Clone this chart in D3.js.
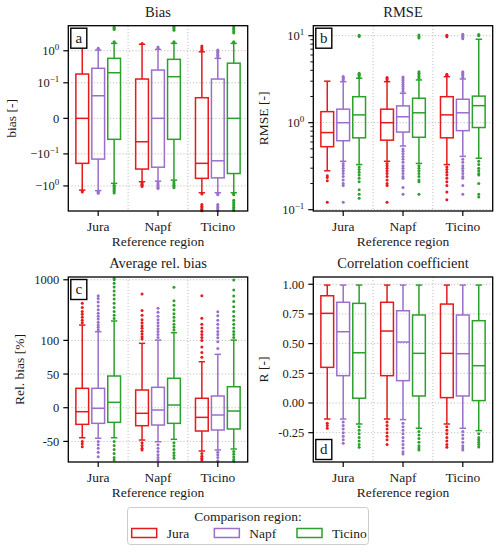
<!DOCTYPE html>
<html><head><meta charset="utf-8">
<script src="https://cdn.jsdelivr.net/npm/d3@7"></script>
<style>
body{margin:0;background:#fff}
svg text{font-family:'Liberation Serif','DejaVu Serif',serif;fill:#1a1a1a}
</style>
</head><body>
<svg id="chart" width="500" height="552" font-family="Liberation Serif, DejaVu Serif, serif"></svg>
<script>
// ---------------- DATA ----------------
const regions = ["Jura", "Napf", "Ticino"];
const comparisonRegions = ["Jura", "Napf", "Ticino"];
const hueColors = ["#e41a1c", "#9a6fcb", "#2ca02c"];

// box stats per reference region, per comparison region: [whiskerLow, q1, median, q3, whiskerHigh]
const biasBoxes = [
  [[-1.35, -0.197, 0, 0.1875, 1.35], [-1.4, -0.145, 0.0635, 0.283, 1.05], [-0.83, -0.059, 0.206, 0.58, 1.7]],
  [[-0.74, -0.297, -0.0658, 0.131, 1.6], [-0.71, -0.26, 0, 0.25, 1.1], [-0.66, -0.059, 0.155, 0.54, 1.7]],
  [[-1.63, -0.58, -0.197, 0.058, 0.93], [-1.63, -0.56, -0.164, 0.131, 0.58], [-1.63, -0.41, 0, 0.41, 1.7]]
];
const biasFliers = [
  [[1.5, -1.45, -1.55], [1.15, 1.2, -1.5, -1.6, -1.7], [4.6, 5.0, 5.4, 1.8, 1.9, -0.95, -1.05, -1.15, -1.25, -1.35, -1.5, -1.65]],
  [[1.7, -0.8, -0.88, -0.95, -1.05], [1.2, 1.3, -0.8, -0.9, -1.0, -1.1, -1.2], [4.4, 4.8, 5.2, 5.6, 1.8, 1.9, -0.75, -0.85, -0.95, -1.05, -1.15]],
  [[1.0, 1.1, 1.25, 1.4, -1.8, -3.8, -4.3, -4.8, -5.4, -6.0], [0.65, 0.72, 0.8, 0.9, 1.0, 1.05, -1.75, -1.9, -3.8, -4.2, -4.7, -5.2, -5.8], [3.6, 4.0, 4.5, 5.0, 5.5, 1.8, 1.9, -1.75, -1.9, -2.8, -3.2, -3.6, -4.1, -4.6, -5.2, -5.8]]
];
const biasTicks = [-1, -0.1, 0, 0.1, 1];
const biasTickLabels = ["−10^0", "−10^−1", "0", "10^−1", "10^0"];

const rmseBoxes = [
  [[0.28, 0.53, 0.77, 1.34, 3.0], [0.36, 0.62, 1.0, 1.43, 2.96], [0.33, 0.67, 1.23, 1.99, 3.24]],
  [[0.36, 0.63, 1.0, 1.43, 2.96], [0.54, 0.78, 1.17, 1.56, 2.18], [0.34, 0.68, 1.3, 1.91, 3.1]],
  [[0.33, 0.67, 1.23, 1.99, 3.38], [0.41, 0.81, 1.3, 1.86, 3.18], [0.39, 0.88, 1.57, 2.02, 9.1]]
];
const rmseFliers = [
  [[0.245, 0.235, 0.215, 0.122], [3.1, 3.2, 3.3, 3.4, 0.34, 0.32, 0.3, 0.28, 0.26, 0.24, 0.22, 0.2, 0.19, 0.122], [3.35, 3.5, 3.6, 3.7, 9.8, 10.1, 0.31, 0.29, 0.27, 0.25, 0.23, 0.21, 0.17, 0.15, 0.135]],
  [[3.1, 3.2, 3.3, 0.34, 0.32, 0.3, 0.28, 0.26, 0.24, 0.22, 0.2, 0.19, 0.122], [2.3, 2.45, 2.6, 2.75, 2.9, 3.05, 3.2, 3.35, 0.5, 0.47, 0.44, 0.41, 0.38, 0.35, 0.32, 0.3, 0.28, 0.26, 0.24, 0.23, 0.18, 0.15], [3.25, 3.4, 3.55, 3.7, 3.86, 9.4, 9.8, 10.2, 0.32, 0.3, 0.28, 0.26, 0.24, 0.22, 0.21, 0.15]],
  [[3.5, 3.6, 9.7, 10.1, 0.31, 0.29, 0.27, 0.25, 0.23, 0.21, 0.19, 0.16, 0.13], [3.3, 3.45, 3.6, 3.75, 3.86, 9.2, 9.6, 10.0, 10.4, 0.38, 0.35, 0.32, 0.3, 0.28, 0.26, 0.24, 0.23, 0.19, 0.15], [10.0, 10.3, 0.36, 0.33, 0.3, 0.28, 0.26, 0.25, 0.2, 0.15, 0.14]]
];
const rmseTicks = [0.1, 1, 10];
const rmseTickLabels = ["10^−1", "10^0", "10^1"];

const relBiasBoxes = [
  [[-44.6, -24.7, -5.9, 28.8, 179], [-45.4, -23.2, -0.9, 28.8, 139], [-44.6, -21.7, 8.0, 47.1, 209]],
  [[-48, -26.7, -8.3, 26.3, 95.6], [-50.5, -25.7, -3.4, 30.3, 101], [-46.9, -23.2, 4.0, 43.7, 134]],
  [[-64.3, -34.6, -14.3, 14, 68.3], [-62.8, -33.1, -10.8, 17.4, 79.3], [-61.3, -31.6, -4.9, 31.2, 101]]
];
const relBiasFliers = [
  [[195, 215, 240, 270, 300, 350, 410, -50, -54, -57.9], [150, 165, 180, 200, 225, 250, 280, 320, 370, 430, 490, 546, -50, -55, -60, -66, -72.8], [230, 260, 300, 350, 410, 480, 560, 650, 760, 880, 1000, 1050, -50, -56, -62, -68, -74, -77.7]],
  [[105, 115, 128, 142, 158, 175, 195, 220, 260, 310, 582, -52, -56, -60, -62.8], [112, 125, 140, 155, 175, 195, 220, 250, 290, 338, -55, -60, -65, -70, -74, -77.7], [148, 165, 185, 210, 240, 275, 320, 380, 450, 751, -52, -57, -62, -67, -71, -75]],
  [[75, 82, 90, 100, 112, 125, 140, 160, 185, 231, 546, -68, -72, -75, -77.7], [88, 98, 110, 125, 140, 160, 185, 215, 255, 297, -66, -70, -74, -78.7], [112, 125, 140, 160, 185, 215, 250, 300, 360, 440, 540, 680, 991, -65, -69, -73, -77, -79]]
];
const relBiasTicks = [-50, 0, 50, 100, 1000];
const relBiasTickLabels = ["-50", "0", "50", "100", "1000"];

const corrBoxes = [
  [[-0.135, 0.30, 0.755, 0.903, 0.993], [-0.135, 0.23, 0.60, 0.848, 0.993], [-0.177, 0.04, 0.423, 0.839, 0.993]],
  [[-0.135, 0.23, 0.606, 0.848, 0.993], [-0.14, 0.188, 0.513, 0.777, 0.993], [-0.213, 0.059, 0.418, 0.741, 0.993]],
  [[-0.177, 0.045, 0.418, 0.833, 0.993], [-0.213, 0.059, 0.415, 0.741, 0.993], [-0.233, 0.02, 0.314, 0.693, 0.993]]
];
const corrFliers = [
  [[-0.17, -0.19, -0.213], [-0.16, -0.19, -0.22, -0.25, -0.28, -0.31, -0.34], [-0.2, -0.23, -0.26, -0.29, -0.32, -0.35, -0.373]],
  [[-0.16, -0.19, -0.22, -0.25, -0.28, -0.31, -0.35], [-0.17, -0.2, -0.23, -0.26, -0.29, -0.32, -0.35, -0.38, -0.41, -0.43], [-0.24, -0.27, -0.3, -0.33, -0.36, -0.38, -0.396]],
  [[-0.2, -0.23, -0.26, -0.29, -0.32, -0.35, -0.373], [-0.24, -0.27, -0.3, -0.33, -0.36, -0.38, -0.396], [-0.26, -0.29, -0.31, -0.33, -0.35, -0.37]]
];
const corrTicks = [-0.25, 0, 0.25, 0.5, 0.75, 1.0];
const corrTickLabels = ["-0.25", "0.00", "0.25", "0.50", "0.75", "1.00"];

const titles = ["Bias", "RMSE", "Average rel. bias", "Correlation coefficient"];
const yLabels = ["bias [-]", "RMSE [-]", "Rel. bias [%]", "R [-]"];
const panelLetters = ["a", "b", "c", "d"];
const xAxisLabel = "Reference region";
const legendTitle = "Comparison region:";

// ---------------- DRAWING ----------------
const svg = d3.select("#chart");

function symlogT(L) {
  const k = 1 / (1 - 1 / 10);
  return v => {
    const a = Math.abs(v), s = Math.sign(v);
    return a <= L ? s * a / L * k : s * (k + Math.log10(a / L));
  };
}
function symlogScale(L, domain, range) {
  const t = symlogT(L);
  const lin = d3.scaleLinear().domain(domain.map(t)).range(range);
  return v => lin(t(v));
}

const panels = [
  {x0: 68.3, x1: 247.7, y0: 25.7, y1: 211, boxes: biasBoxes, fliers: biasFliers, ticks: biasTicks, labels: biasTickLabels,
   type: "symlog", L: 0.1, domain: [-6.07, 6.07], ylabX: 12, letter: "top"},
  {x0: 313.3, x1: 492.7, y0: 25.7, y1: 211, boxes: rmseBoxes, fliers: rmseFliers, ticks: rmseTicks, labels: rmseTickLabels,
   type: "log", domain: [0.0966, 13.03], ylabX: 264, letter: "top"},
  {x0: 68.3, x1: 247.7, y0: 277, y1: 462, boxes: relBiasBoxes, fliers: relBiasFliers, ticks: relBiasTicks, labels: relBiasTickLabels,
   type: "symlog", L: 100, domain: [-80.6, 1111], ylabX: 20, letter: "top"},
  {x0: 313.3, x1: 492.7, y0: 277, y1: 462, boxes: corrBoxes, fliers: corrFliers, ticks: corrTicks, labels: corrTickLabels,
   type: "linear", domain: [-0.497, 1.061], ylabX: 264, letter: "bottom"}
];

function addLabel(sel, str, supSize) {
  const parts = str.split("^");
  sel.text(parts[0]);
  if (parts.length > 1) {
    sel.append("tspan").attr("dy", -5).attr("font-size", supSize).text(parts[1]);
  }
}

panels.forEach((p, pi) => {
  const g = svg.append("g");
  const x = d3.scaleLinear().domain([-0.5, 2.5]).range([p.x0, p.x1]);
  let y;
  if (p.type === "symlog") y = symlogScale(p.L, p.domain, [p.y1, p.y0]);
  else if (p.type === "log") y = d3.scaleLog().domain(p.domain).range([p.y1, p.y0]);
  else y = d3.scaleLinear().domain(p.domain).range([p.y1, p.y0]);

  // grid
  p.ticks.forEach(t => {
    g.append("line").attr("x1", p.x0).attr("x2", p.x1).attr("y1", y(t)).attr("y2", y(t))
      .attr("stroke", "#b3b3b3").attr("stroke-width", 1).attr("stroke-dasharray", "1,2.2");
  });
  [0.5, 1.5].forEach(t => {
    g.append("line").attr("x1", x(t)).attr("x2", x(t)).attr("y1", p.y0).attr("y2", p.y1)
      .attr("stroke", "#b3b3b3").attr("stroke-width", 1).attr("stroke-dasharray", "1,2.2");
  });

  // boxes
  const hueOff = 0.8 / 3;
  const halfW = hueOff * 0.8 / 2;
  p.boxes.forEach((reg, ri) => {
    reg.forEach((s, hi) => {
      const c = hueColors[hi];
      const cx = x(ri + (hi - 1) * hueOff);
      const hw = x(halfW) - x(0);
      const [wl, q1, md, q3, wh] = s;
      const bg = g.append("g").attr("stroke", c).attr("stroke-width", 1.5).attr("fill", "none");
      bg.append("line").attr("x1", cx).attr("x2", cx).attr("y1", y(q3)).attr("y2", y(wh));
      bg.append("line").attr("x1", cx).attr("x2", cx).attr("y1", y(q1)).attr("y2", y(wl));
      bg.append("line").attr("x1", cx - hw / 2).attr("x2", cx + hw / 2).attr("y1", y(wh)).attr("y2", y(wh));
      bg.append("line").attr("x1", cx - hw / 2).attr("x2", cx + hw / 2).attr("y1", y(wl)).attr("y2", y(wl));
      bg.append("rect").attr("x", cx - hw).attr("width", 2 * hw).attr("y", y(q3)).attr("height", y(q1) - y(q3));
      bg.append("line").attr("x1", cx - hw).attr("x2", cx + hw).attr("y1", y(md)).attr("y2", y(md));
      g.selectAll(null).data(p.fliers[ri][hi]).enter().append("circle")
        .attr("cx", cx).attr("cy", d => y(d)).attr("r", 1.5).attr("fill", c);
    });
  });

  // frame
  g.append("rect").attr("x", p.x0).attr("y", p.y0).attr("width", p.x1 - p.x0).attr("height", p.y1 - p.y0)
    .attr("fill", "none").attr("stroke", "#000").attr("stroke-width", 1.3);

  // y ticks
  p.ticks.forEach((t, i) => {
    g.append("line").attr("x1", p.x0 - 5).attr("x2", p.x0).attr("y1", y(t)).attr("y2", y(t))
      .attr("stroke", "#000").attr("stroke-width", 1.2);
    const tx = g.append("text").attr("x", p.x0 - 9).attr("y", y(t) + 4.5).attr("text-anchor", "end")
      .attr("font-size", 12.5);
    addLabel(tx, p.labels[i], 9);
  });
  if (p.type === "log") {
    const minors = [];
    [0.1, 1].forEach(dec => { for (let m = 2; m <= 9; m++) minors.push(dec * m); });
    minors.forEach(t => {
      g.append("line").attr("x1", p.x0 - 3).attr("x2", p.x0).attr("y1", y(t)).attr("y2", y(t))
        .attr("stroke", "#000").attr("stroke-width", 0.9);
    });
  }
  // x ticks
  regions.forEach((r, i) => {
    g.append("line").attr("x1", x(i)).attr("x2", x(i)).attr("y1", p.y1).attr("y2", p.y1 + 5)
      .attr("stroke", "#000").attr("stroke-width", 1.2);
    g.append("text").attr("x", x(i)).attr("y", p.y1 + 20).attr("text-anchor", "middle")
      .attr("font-size", 13.5).text(r);
  });
  g.append("text").attr("x", (p.x0 + p.x1) / 2).attr("y", p.y1 + 35).attr("text-anchor", "middle")
    .attr("font-size", 13.5).text(xAxisLabel);
  g.append("text").attr("x", (p.x0 + p.x1) / 2).attr("y", p.y0 - 9).attr("text-anchor", "middle")
    .attr("font-size", 14.5).text(titles[pi]);
  g.append("text").attr("transform", `translate(${p.ylabX + 4},${(p.y0 + p.y1) / 2}) rotate(-90)`)
    .attr("text-anchor", "middle").attr("font-size", 13.5).text(yLabels[pi]);

  // panel letter
  const lw = 16, lh = 20;
  const lx = p.x0 + 2.5;
  const ly = p.letter === "top" ? p.y0 + 2.5 : p.y1 - 2.5 - lh;
  g.append("rect").attr("x", lx).attr("y", ly).attr("width", lw).attr("height", lh)
    .attr("fill", "#fff").attr("stroke", "#000").attr("stroke-width", 1.4);
  g.append("text").attr("x", lx + lw / 2).attr("y", ly + 14.5).attr("text-anchor", "middle")
    .attr("font-size", 15).text(panelLetters[pi]);
});

// legend
const lg = svg.append("g");
lg.append("rect").attr("x", 127.5).attr("y", 507.5).attr("width", 241).attr("height", 37).attr("rx", 3)
  .attr("fill", "#fff").attr("stroke", "#cccccc").attr("stroke-width", 1);
lg.append("text").attr("x", 248).attr("y", 520.5).attr("text-anchor", "middle").attr("font-size", 13.5).text(legendTitle);
const legX = d3.scalePoint().domain(comparisonRegions).range([131.7, 297]);
comparisonRegions.forEach((r, i) => {
  lg.append("rect").attr("x", legX(r)).attr("y", 528.5).attr("width", 25).attr("height", 9)
    .attr("fill", "#fff").attr("stroke", hueColors[i]).attr("stroke-width", 1.5);
  lg.append("text").attr("x", legX(r) + 35).attr("y", 537.5).attr("font-size", 13.5).text(r);
});
</script>
</body></html>
